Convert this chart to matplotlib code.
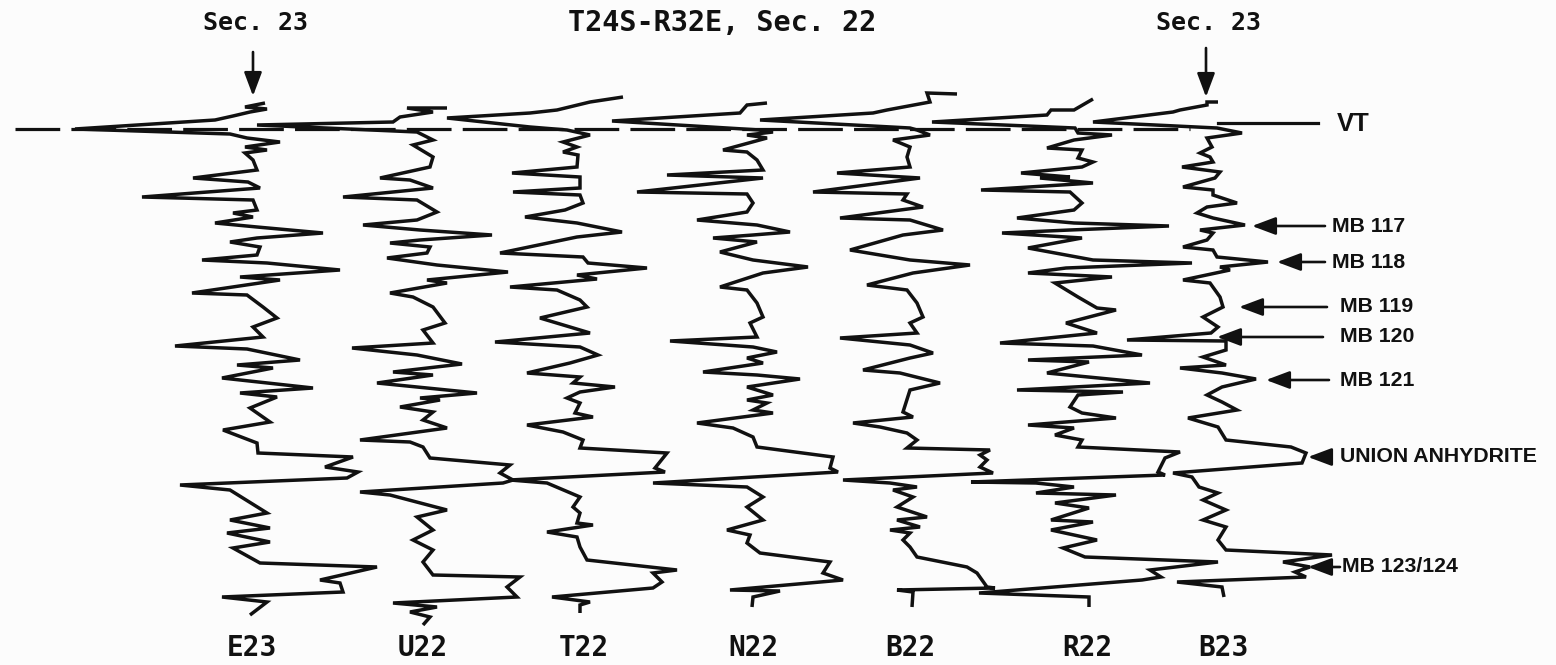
"""
Cross-section of seven well logs, T24S-R32E Sec. 22 / Sec. 23,
hung on the VT datum with marker beds MB 117 - MB 123/124.
"""
import matplotlib
matplotlib.use("Agg")
import matplotlib.pyplot as plt

# ---- log traces: (reading, depth) pairs -------------
E23 = [(265, 103), (245, 107), (267, 109), (250, 112), (233, 116), (215, 120), (75, 129),
       (230, 134), (247, 138), (280, 142), (245, 147), (267, 150), (245, 153), (253, 160),
       (257, 170), (193, 178), (248, 182), (260, 188), (142, 197), (253, 200), (257, 210),
       (233, 213), (253, 217), (215, 223), (257, 227), (323, 233), (257, 238), (230, 242),
       (260, 247), (257, 255), (202, 260), (267, 263), (340, 270), (240, 277), (280, 280),
       (192, 293), (247, 295), (263, 307), (277, 318), (253, 327), (263, 337), (175, 346),
       (247, 349), (300, 360), (237, 365), (273, 368), (222, 378), (313, 388), (240, 393),
       (277, 397), (250, 408), (270, 422), (223, 430), (257, 443), (258, 453), (353, 457),
       (325, 467), (358, 472), (347, 478), (180, 485), (230, 490), (267, 513), (230, 520),
       (270, 528), (227, 533), (270, 542), (233, 548), (260, 563), (377, 567), (320, 580),
       (340, 583), (343, 592), (222, 597), (267, 602), (250, 615)]

U22 = [(447, 108), (407, 108), (433, 112), (400, 117), (393, 122), (257, 125), (417, 132),
       (433, 140), (413, 145), (433, 157), (430, 167), (380, 178), (410, 180), (433, 188),
       (343, 197), (417, 200), (437, 212), (417, 220), (363, 225), (420, 230), (492, 235),
       (420, 240), (390, 243), (430, 247), (427, 253), (387, 258), (437, 265), (508, 272),
       (427, 280), (447, 283), (390, 293), (413, 297), (433, 307), (445, 323), (423, 330),
       (433, 343), (352, 348), (417, 355), (462, 364), (393, 372), (433, 375), (377, 383),
       (477, 393), (420, 398), (440, 400), (400, 407), (433, 412), (423, 420), (447, 428),
       (360, 440), (410, 442), (423, 447), (430, 458), (510, 465), (500, 473), (513, 480),
       (503, 483), (360, 492), (390, 495), (447, 510), (417, 517), (433, 530), (413, 540),
       (433, 550), (423, 562), (433, 575), (520, 577), (507, 587), (517, 597), (393, 603),
       (437, 607), (410, 612), (430, 617), (423, 625)]

T22 = [(623, 97), (590, 102), (557, 110), (530, 113), (447, 118), (530, 127), (567, 130),
       (590, 135), (563, 142), (577, 147), (563, 152), (578, 155), (577, 167), (512, 173),
       (580, 177), (580, 188), (513, 192), (580, 195), (583, 203), (565, 210), (525, 217),
       (577, 223), (622, 232), (577, 237), (500, 253), (583, 257), (588, 263), (647, 268),
       (577, 275), (597, 279), (510, 287), (557, 290), (580, 300), (587, 307), (540, 318),
       (590, 333), (495, 342), (580, 347), (598, 355), (570, 363), (527, 373), (580, 377),
       (573, 383), (615, 387), (580, 392), (567, 398), (580, 403), (575, 413), (593, 417),
       (527, 425), (563, 432), (583, 440), (580, 448), (667, 453), (655, 468), (665, 472),
       (510, 480), (547, 483), (580, 497), (573, 507), (580, 513), (577, 523), (593, 525),
       (547, 532), (577, 537), (580, 547), (587, 560), (677, 570), (653, 573), (662, 582),
       (653, 588), (552, 597), (590, 602), (580, 605), (580, 613)]

N22 = [(767, 103), (747, 105), (740, 113), (612, 121), (760, 130), (773, 132), (747, 135),
       (767, 138), (723, 150), (747, 152), (757, 160), (763, 170), (667, 175), (763, 178),
       (637, 192), (747, 194), (753, 203), (747, 212), (697, 220), (757, 225), (790, 232),
       (753, 235), (713, 238), (757, 242), (720, 252), (753, 260), (808, 267), (763, 273),
       (720, 287), (747, 290), (757, 303), (763, 317), (750, 323), (757, 337), (670, 341),
       (753, 347), (777, 352), (747, 358), (763, 363), (703, 372), (757, 375), (800, 379),
       (747, 387), (773, 395), (747, 400), (767, 403), (753, 410), (773, 413), (697, 423),
       (733, 428), (753, 437), (757, 447), (833, 457), (830, 468), (838, 472), (653, 483),
       (747, 487), (763, 497), (747, 507), (763, 520), (727, 530), (750, 535), (747, 543),
       (760, 553), (830, 562), (823, 573), (843, 580), (730, 590), (780, 591), (753, 597),
       (752, 607)]

B22 = [(957, 94), (927, 93), (930, 102), (887, 110), (873, 113), (760, 120), (910, 128),
       (917, 130), (930, 135), (893, 140), (910, 147), (907, 157), (910, 167), (837, 173),
       (920, 178), (813, 192), (907, 194), (903, 200), (923, 207), (840, 218), (910, 220),
       (943, 230), (903, 235), (850, 250), (910, 260), (970, 265), (913, 273), (867, 285),
       (907, 290), (917, 303), (923, 317), (910, 323), (917, 333), (840, 338), (910, 345),
       (933, 353), (910, 358), (863, 370), (900, 373), (940, 383), (910, 390), (903, 412),
       (913, 417), (853, 423), (880, 427), (907, 433), (917, 440), (907, 448), (990, 450),
       (980, 455), (987, 460), (980, 467), (993, 473), (843, 480), (890, 483), (917, 487),
       (893, 490), (913, 497), (897, 507), (927, 517), (897, 520), (920, 527), (890, 530),
       (910, 533), (903, 540), (910, 547), (917, 557), (967, 567), (977, 573), (987, 587),
       (995, 588), (897, 590), (913, 592), (912, 607)]

R22 = [(1093, 99), (1074, 110), (1051, 110), (1047, 115), (932, 122), (1075, 128), (1078, 133),
       (1112, 135), (1074, 140), (1047, 148), (1082, 150), (1078, 158), (1093, 162), (1082, 167),
       (1021, 173), (1070, 177), (1040, 178), (1093, 183), (981, 190), (1070, 192), (1082, 203),
       (1074, 210), (1017, 218), (1074, 223), (1169, 226), (1070, 230), (1002, 233), (1082, 238),
       (1028, 248), (1093, 260), (1192, 263), (1066, 268), (1028, 273), (1112, 277), (1055, 283),
       (1078, 297), (1097, 308), (1116, 310), (1066, 323), (1097, 333), (1000, 343), (1093, 346),
       (1142, 355), (1028, 360), (1089, 362), (1047, 373), (1150, 383), (1017, 390), (1123, 392),
       (1078, 395), (1070, 407), (1082, 413), (1116, 418), (1028, 425), (1074, 428), (1055, 435),
       (1082, 440), (1078, 447), (1180, 452), (1165, 458), (1158, 472), (1165, 475), (971, 482),
       (1036, 483), (1074, 487), (1036, 493), (1116, 495), (1055, 503), (1089, 508), (1051, 520),
       (1093, 522), (1051, 530), (1097, 540), (1063, 548), (1085, 557), (1218, 562), (1150, 570),
       (1161, 577), (1142, 580), (979, 593), (1089, 597), (1089, 607)]

B23 = [(1218, 102), (1207, 102), (1207, 105), (1180, 110), (1173, 112), (1093, 122), (1217, 128),
       (1242, 133), (1207, 138), (1212, 147), (1200, 153), (1210, 157), (1213, 162), (1182, 167),
       (1220, 172), (1215, 178), (1183, 187), (1213, 190), (1213, 195), (1237, 203), (1207, 207),
       (1197, 213), (1213, 218), (1245, 225), (1200, 230), (1213, 233), (1207, 240), (1183, 247),
       (1213, 250), (1217, 257), (1268, 262), (1220, 267), (1230, 270), (1183, 280), (1210, 283),
       (1220, 297), (1223, 307), (1203, 317), (1218, 327), (1211, 333), (1127, 340), (1226, 341),
       (1226, 350), (1203, 357), (1226, 365), (1180, 368), (1222, 373), (1256, 379), (1222, 387),
       (1207, 395), (1222, 402), (1237, 410), (1188, 418), (1218, 427), (1226, 440), (1291, 447),
       (1306, 453), (1302, 463), (1173, 473), (1192, 477), (1199, 487), (1218, 493), (1203, 500),
       (1226, 510), (1203, 520), (1226, 527), (1218, 540), (1226, 550), (1332, 555), (1283, 562),
       (1310, 567), (1295, 572), (1306, 577), (1177, 582), (1222, 587), (1224, 597)]

WELLS = ["E23", "U22", "T22", "N22", "B22", "R22", "B23"]
LOGS = [E23, U22, T22, N22, B22, R22, B23]
WELL_LABEL_X = [252, 423, 584, 754, 910, 1087, 1223]

# ---- datum and marker beds ------------------------------------------------
DATUM_DEPTH = 129
DATUM_SPAN = (15, 1190)
VT_SPAN = (1218, 1318)
VT_DEPTH = 123

MARKERS = ["MB 117", "MB 118", "MB 119", "MB 120", "MB 121", "UNION ANHYDRITE", "MB 123/124"]
MARKER_DEPTH = [226, 262, 307, 337, 380, 457, 567]
MARKER_HEAD = [1252, 1277, 1239, 1217, 1266, 1308, 1308]
MARKER_TAIL = [1325, 1325, 1327, 1323, 1329, 1329, 1340]
MARKER_TEXT_X = [1332, 1332, 1340, 1340, 1340, 1340, 1342]

SECTION_LABELS = ["Sec. 23", "Sec. 23"]
SECTION_X = [253, 1206]
SECTION_ARROW = [(52, 96), (48, 97)]
TITLE = "T24S-R32E, Sec. 22"

MONO = ["DejaVu Sans Mono"]
SANS = ["Liberation Sans", "DejaVu Sans"]
INK = "#111111"


def main():
    fig = plt.figure(figsize=(15.56, 6.65), dpi=100, facecolor="#fcfcfc")
    ax = fig.add_axes([0, 0, 1, 1])
    ax.set_xlim(0, 1556)
    ax.set_ylim(665, 0)
    ax.axis("off")

    # logs
    for log in LOGS:
        xs = [p[0] for p in log]
        ys = [p[1] for p in log]
        ax.plot(xs, ys, color=INK, lw=2.5, solid_joinstyle="miter", solid_capstyle="butt")

    # VT datum: dashed across the wells, solid out to the label
    ax.plot(DATUM_SPAN, [DATUM_DEPTH] * 2, color=INK, lw=2.3, dashes=(14, 3.5))
    ax.plot(VT_SPAN, [VT_DEPTH] * 2, color=INK, lw=2.3)
    ax.text(1337, 124, "VT", fontsize=18.5, fontweight="bold", family=SANS,
            ha="left", va="center", color=INK)

    # marker bed arrows + labels
    for name, d, hx, tx, lx in zip(MARKERS, MARKER_DEPTH, MARKER_HEAD, MARKER_TAIL, MARKER_TEXT_X):
        ax.annotate("", xy=(hx, d), xytext=(tx, d),
                    arrowprops=dict(arrowstyle="-|>,head_length=0.8,head_width=0.3",
                                    lw=1.9, color=INK, mutation_scale=18,
                                    shrinkA=0, shrinkB=0))
        ax.text(lx, d, name, fontsize=15.3, fontweight="bold", family=SANS,
                ha="left", va="center", color=INK)

    # section headers
    for lab, x, (y0, y1) in zip(SECTION_LABELS, SECTION_X, SECTION_ARROW):
        ax.text(x + 3, 23, lab, fontsize=18, fontweight="bold", family=MONO,
                ha="center", va="center", color=INK)
        ax.annotate("", xy=(x, y1), xytext=(x, y0),
                    arrowprops=dict(arrowstyle="-|>,head_length=0.8,head_width=0.3",
                                    lw=1.9, color=INK, mutation_scale=18,
                                    shrinkA=0, shrinkB=0))
    ax.text(722, 23, TITLE, fontsize=20.5, fontweight="bold", family=MONO,
            ha="center", va="center", color=INK)

    # well names
    for name, x in zip(WELLS, WELL_LABEL_X):
        ax.text(x, 648, name, fontsize=20, fontweight="bold", family=MONO,
                ha="center", va="center", color=INK)

    fig.savefig("out.png", dpi=100, facecolor=fig.get_facecolor())
    plt.close(fig)


if __name__ == "__main__":
    main()
